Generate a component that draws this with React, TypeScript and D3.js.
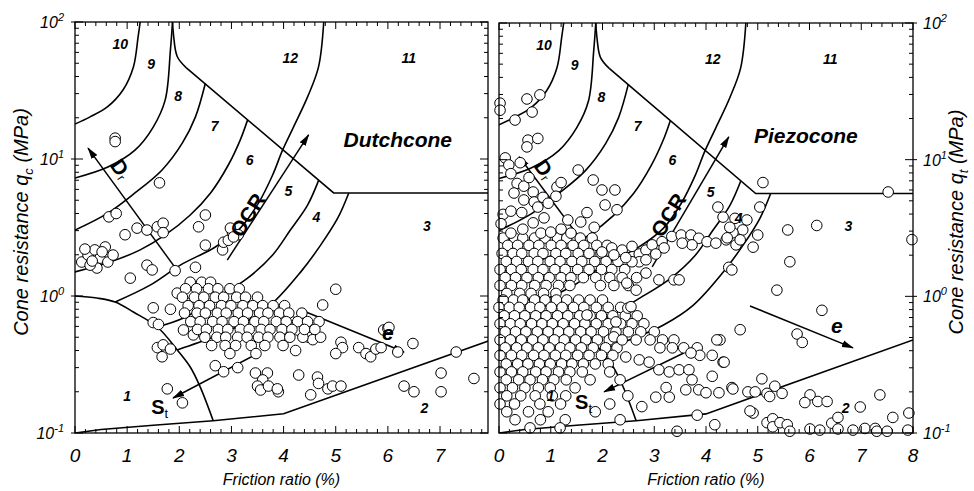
import React from 'react';
import * as d3 from 'd3';

type P = [number, number];

const FONT = '"Liberation Sans", Arial, Helvetica, sans-serif';

// ---------------- data ----------------
const xTickValues = [0, 1, 2, 3, 4, 5, 6, 7, 8];
const yDecades = [-1, 0, 1, 2];

// zone boundaries  [friction ratio %, cone resistance MPa]
const zone1Top: P[] = [[0, 1.0], [0.42, 0.966], [0.77, 0.904], [1.12, 0.764], [1.58, 0.594], [1.96, 0.404], [2.21, 0.303], [2.4, 0.217], [2.65, 0.123]];
const zone2Line: P[] = [[0, 0.1], [0.5, 0.106], [1.5, 0.114], [2.65, 0.123], [4.0, 0.138], [8.0, 0.48]];
const b10_9: P[] = [[1.25, 100], [1.21, 77.8], [1.12, 47], [0.92, 31.9], [0.62, 24.0], [0.29, 20.3], [0, 18.0]];
const b9_8: P[] = [[1.87, 100], [1.83, 62.5], [1.73, 27.0], [1.5, 17.1], [1.15, 11.6], [0.63, 8.74], [0, 7.27]];
const cuspBranch: P[] = [[1.87, 100], [1.89, 80], [1.96, 56], [2.13, 46.5]];
const diagonalLine: P[] = [[2.13, 46.5], [4.96, 5.65], [8.0, 5.65]];
const b8_7: P[] = [[0, 3.03], [0.63, 4.03], [1.15, 5.65], [1.67, 8.32], [2.06, 13.1], [2.31, 20.3], [2.5, 35.7]];
const b7_6: P[] = [[0, 1.5], [0.67, 1.77], [1.25, 2.17], [1.73, 2.79], [2.21, 3.9], [2.6, 5.65], [2.94, 9.04], [3.17, 13.8], [3.31, 19.3]];
const b6_5: P[] = [[0.77, 0.904], [1.44, 1.2], [2.02, 1.68], [2.69, 2.28], [3.17, 3.13], [3.52, 4.78], [3.79, 7.64], [3.98, 11.6], [4.19, 17.1], [4.46, 28.4], [4.67, 47.0], [4.77, 100]];
const b5_4: P[] = [[1.58, 0.594], [2.08, 0.69], [2.65, 0.935], [3.31, 1.35], [3.79, 1.99], [4.13, 3.03], [4.46, 4.61], [4.67, 6.95]];
const b4_3: P[] = [[1.96, 0.404], [2.65, 0.502], [3.17, 0.614], [3.75, 0.859], [4.33, 1.5], [4.71, 2.35], [5.04, 3.71], [5.25, 5.65]];
const curvedBoundaries = [zone1Top, b10_9, b9_8, cuspBranch, b8_7, b7_6, b6_5, b5_4, b4_3];
const straightBoundaries = [zone2Line, diagonalLine];

const zoneNames = ['10', '9', '8', '7', '6', '5', '4', '3', '12', '11', '1', '2'];
const zoneLabelX = [0.87, 1.46, 1.98, 2.68, 3.35, 4.09, 4.63, 6.75, 4.13, 6.4, 1.0, 6.7];
const zoneLabelQ = [69, 49, 28.6, 17.5, 9.9, 5.8, 3.76, 3.25, 54.6, 54.6, 0.185, 0.153];

// Dutch cone measurements
const dutchPoints: P[] = [
  [0.77, 14.2], [0.77, 13.4], [1.62, 6.7],
  [0.65, 3.78], [0.79, 4.0], [0.96, 2.8],
  [1.19, 3.13], [1.38, 3.03], [1.58, 3.2], [1.69, 3.4], [1.69, 2.9],
  [0.13, 1.77], [0.25, 1.99], [0.38, 2.17], [0.48, 1.89], [0.63, 1.77], [0.73, 1.99], [0.42, 1.6], [0.29, 1.68], [0.58, 2.28], [0.19, 2.2], [0.33, 1.8], [0.52, 2.1],
  [1.38, 1.68], [1.48, 1.55], [1.06, 1.35], [1.92, 1.53], [2.31, 1.62],
  [2.5, 3.9], [2.37, 3.2], [2.5, 2.35],
  [2.83, 2.17], [2.85, 2.47], [2.94, 2.55], [3.02, 2.9], [3.13, 2.8], [2.98, 3.13], [3.04, 2.7],
  [1.5, 0.82], [1.83, 0.8], [1.5, 0.64], [1.6, 0.62],
  [1.58, 0.42], [1.69, 0.44], [1.83, 0.41], [1.67, 0.36],
  [1.77, 0.21], [2.06, 0.166],
  [2.08, 0.565], [2.27, 0.52],
  [1.96, 1.05], [2.21, 1.05],
  [2.69, 0.31], [2.85, 0.28], [3.12, 0.3],
  [5.0, 1.12], [4.75, 0.86],
  [5.1, 0.46], [5.13, 0.42], [5.0, 0.38],
  [5.44, 0.42], [5.58, 0.38], [5.67, 0.36], [5.77, 0.41], [5.87, 0.42],
  [4.29, 0.265],
  [4.65, 0.256], [4.67, 0.23], [4.85, 0.21], [4.94, 0.22], [5.1, 0.22], [4.52, 0.19],
  [3.46, 0.274], [3.69, 0.274], [3.6, 0.244], [3.5, 0.22], [3.56, 0.206], [3.71, 0.22], [3.9, 0.2], [3.88, 0.21],
  [5.92, 0.565], [6.0, 0.58], [6.02, 0.59],
  [6.19, 0.39], [6.48, 0.45], [6.31, 0.22], [6.5, 0.2],
  [7.02, 0.274], [7.02, 0.2], [7.31, 0.39], [7.65, 0.25],
  [4.17, 0.645], [4.27, 0.565], [4.23, 0.4],
  [4.48, 0.5], [4.56, 0.48], [4.71, 0.5], [4.37, 0.5], [4.46, 0.59],
];
// dense cluster, listed row by row: [cone resistance, friction ratios]
const dutchBlobRows: [number, number[]][] = [
  [1.26, [2.21, 2.43, 2.6]],
  [1.13, [2.12, 2.33, 2.56, 2.74, 2.97, 3.15]],
  [0.98, [2.06, 2.29, 2.47, 2.69, 2.85, 3.1, 3.27, 3.5]],
  [0.85, [2.17, 2.38, 2.58, 2.81, 2.99, 3.22, 3.41, 3.6, 3.8, 4.02]],
  [0.75, [2.1, 2.34, 2.5, 2.73, 2.9, 3.13, 3.31, 3.54, 3.7, 3.92, 4.1, 4.35]],
  [0.65, [2.22, 2.4, 2.64, 2.82, 3.05, 3.23, 3.45, 3.62, 3.86, 4.05, 4.27, 4.46, 4.68]],
  [0.57, [2.35, 2.52, 2.75, 2.93, 3.17, 3.34, 3.57, 3.74, 3.97, 4.16, 4.4, 4.6]],
  [0.5, [2.49, 2.72, 2.89, 3.12, 3.3, 3.52, 3.7, 3.93, 4.12]],
  [0.435, [2.62, 2.88, 3.08, 3.38, 3.64, 3.99]],
  [0.38, [2.97, 3.47]],
];

// Piezocone measurements
const piezoPoints: P[] = [
  [0.02, 25.9], [0.02, 23.0], [0.54, 27.8], [0.79, 29.8], [0.64, 22.3], [0.31, 19.5], [0.56, 13.9], [0.75, 14.3], [0.54, 12.4],
  [1.53, 8.4], [1.82, 7.1], [1.99, 6.0], [2.24, 6.0], [2.28, 4.3], [1.7, 4.1], [2.05, 4.66], [1.58, 3.5], [1.84, 3.2],
  [0.12, 10.3], [0.19, 9.15], [0.41, 9.5], [0.23, 7.9], [0.35, 6.7], [0.29, 5.7], [0.48, 6.4], [0.48, 5.07], [0.66, 5.8], [0.68, 4.9], [0.85, 5.3], [0.75, 4.5], [0.95, 4.8], [1.12, 6.3], [1.1, 5.4], [1.2, 6.8], [0.08, 3.98], [0.23, 4.2], [0.04, 3.4], [0.23, 2.9], [0.46, 3.1], [0.66, 3.45], [0.87, 3.75], [0.81, 2.9], [1.0, 2.95], [1.2, 3.1], [1.33, 3.62], [1.39, 2.9], [0.44, 4.1], [0.58, 7.4],
  [1.99, 2.11], [2.18, 2.26], [2.38, 2.18], [2.57, 2.32], [2.71, 2.04], [2.84, 2.18], [2.96, 2.38], [3.15, 2.51], [3.34, 2.74], [3.52, 2.81], [3.71, 2.81], [3.86, 2.66], [4.02, 2.51], [4.19, 2.45], [4.39, 2.59], [4.58, 2.38], [2.71, 1.79], [2.57, 1.79], [2.84, 1.85], [3.73, 2.38], [3.54, 2.45], [3.19, 2.26], [3.03, 2.04], [2.22, 2.01], [2.45, 1.92],
  [4.33, 3.8], [4.56, 3.72], [4.79, 3.62], [5.04, 4.5], [5.0, 2.81], [4.91, 2.29], [4.71, 3.06], [4.52, 2.92], [4.41, 2.68], [4.66, 2.59], [4.23, 4.5], [4.46, 3.2],
  [5.1, 6.8], [5.58, 3.06], [6.14, 3.3], [7.52, 5.8], [7.98, 2.6],
  [3.09, 1.32], [3.38, 1.32], [3.48, 1.32], [2.47, 1.25], [2.65, 1.11], [2.84, 1.48], [4.44, 1.63], [4.5, 1.56],
  [5.62, 1.79], [5.37, 1.11], [6.24, 0.79], [4.66, 0.57], [5.76, 0.53], [5.86, 0.46], [4.33, 0.33], [4.27, 0.48],
  [2.49, 0.82], [1.7, 0.73], [2.26, 0.65], [2.55, 0.84],
  [2.22, 0.505], [2.38, 0.48], [2.65, 0.48], [2.45, 0.36], [2.71, 0.343], [2.9, 0.33], [3.09, 0.29], [3.29, 0.28], [3.48, 0.29], [3.67, 0.29], [3.73, 0.245], [3.86, 0.207], [4.0, 0.197], [3.23, 0.215], [3.03, 0.183], [3.29, 0.183], [3.61, 0.207], [3.71, 0.385], [4.21, 0.48], [4.35, 0.33], [4.12, 0.26], [4.5, 0.215], [4.25, 0.197], [2.76, 0.156],
  [5.08, 0.249], [4.52, 0.21], [4.81, 0.2], [4.95, 0.2], [5.33, 0.22], [5.18, 0.195], [5.23, 0.185], [5.47, 0.195], [4.91, 0.14], [4.85, 0.145], [5.18, 0.119], [5.29, 0.127], [5.29, 0.111], [5.43, 0.119], [5.57, 0.115], [5.62, 0.103], [6.01, 0.19], [5.91, 0.167], [6.16, 0.17], [6.34, 0.17], [6.01, 0.107], [6.2, 0.105], [6.43, 0.118], [6.55, 0.13], [6.55, 0.107], [6.84, 0.105], [7.07, 0.108], [7.27, 0.108], [7.3, 0.103], [7.5, 0.103], [6.98, 0.155], [7.36, 0.19], [7.61, 0.13], [7.92, 0.14], [7.9, 0.105], [3.44, 0.103], [3.83, 0.135], [4.17, 0.115],
];
const piezoRows: [number, number[]][] = [
  [2.67, [0.08, 0.3, 0.46, 0.69, 0.89, 1.13, 1.31, 1.57, 1.8]],
  [2.36, [0.17, 0.36, 0.58, 0.77, 1.01, 1.2, 1.43, 1.64, 1.89, 2.09]],
  [2.06, [0.06, 0.27, 0.44, 0.68, 0.85, 1.1, 1.29, 1.53, 1.74, 1.97, 2.18]],
  [1.8, [0.14, 0.34, 0.57, 0.75, 0.99, 1.18, 1.41, 1.6, 1.85, 2.07, 2.3]],
  [1.57, [0.02, 0.24, 0.43, 0.66, 0.85, 1.08, 1.28, 1.52, 1.74, 1.98, 2.18, 2.43]],
  [1.37, [0.12, 0.32, 0.54, 0.76, 0.97, 1.2, 1.39, 1.63, 1.87, 2.14, 2.38, 2.66]],
  [1.2, [0.02, 0.24, 0.44, 0.69, 0.91, 1.15, 1.37, 1.96, 2.22, 2.5]],
  [1.05, [0.15, 0.4, 0.62, 0.86, 1.1]],
  [0.94, [0.08, 0.28, 0.46, 0.69, 0.89, 1.11, 1.31, 1.54, 1.76, 2.0]],
  [0.83, [0, 0.2, 0.39, 0.61, 0.79, 1.01, 1.22, 1.44, 1.64, 1.88, 2.11, 2.35]],
  [0.72, [0.1, 0.3, 0.5, 0.71, 0.91, 1.13, 1.33, 1.56, 1.76, 1.98, 2.2, 2.44, 2.67]],
  [0.63, [0.02, 0.22, 0.41, 0.63, 0.83, 1.03, 1.24, 1.46, 1.66, 1.88, 2.11, 2.35, 2.57, 2.8]],
  [0.55, [0.12, 0.32, 0.52, 0.74, 0.95, 1.15, 1.35, 1.58, 1.78, 2.02, 2.26, 2.5, 2.74, 3.0]],
  [0.48, [0.02, 0.22, 0.43, 0.65, 0.85, 1.07, 1.26, 1.48, 1.68, 1.9, 2.13, 2.92, 3.16, 3.38]],
  [0.42, [0.12, 0.34, 0.54, 0.76, 0.97, 1.19, 1.37, 1.59, 1.82, 2.06, 2.28, 3.11, 3.35, 3.57, 3.83]],
  [0.37, [0.02, 0.24, 0.44, 0.67, 0.87, 1.09, 1.29, 1.52, 1.74, 1.98, 2.2, 3.88, 4.12]],
  [0.32, [0.14, 0.36, 0.56, 0.78, 0.99, 1.21, 1.41, 1.63, 1.86, 2.11]],
  [0.28, [0.02, 0.24, 0.46, 0.71, 0.91, 1.15, 1.37, 1.61, 2.14]],
  [0.245, [0.14, 0.38, 0.6, 0.84, 1.06, 1.3, 1.76, 2.34]],
  [0.214, [0.02, 0.26, 0.5, 0.76, 0.99, 1.47]],
  [0.187, [0.15, 0.42, 0.7, 1.03, 1.29, 2.49]],
  [0.163, [0.02, 0.3, 0.79, 1.19, 2.14]],
  [0.143, [0.15, 0.57, 0.95, 1.86]],
  [0.125, [0.31, 0.8, 1.28, 2.34]],
  [0.109, [0.6, 1.18]],
];

// annotation arrows [tail, head]
const dutchDr: P[] = [[1.98, 1.5], [0.25, 12.0]];
const dutchOCR: P[] = [[2.92, 1.83], [4.48, 15.0]];
const dutchSt: P[] = [[3.56, 0.39], [1.88, 0.18]];
const dutchE: P[] = [[4.37, 0.78], [6.31, 0.39]];
const piezoDr: P[] = [[2.09, 1.44], [0.39, 10.5]];
const piezoOCR: P[] = [[2.96, 1.64], [4.44, 14.7]];
const piezoSt: P[] = [[3.57, 0.385], [2.03, 0.2]];
const piezoE: P[] = [[4.85, 0.85], [6.84, 0.42]];

const rowsToPoints = (rows: [number, number[]][]): P[] => rows.flatMap(([q, xs]) => xs.map((v) => [v, q] as P));

const panels = [
  {
    id: 'dutch', left: 75, right: 488, top: 22, bottom: 433, xMax: 7.92, labelSide: 'left', title: 'Dutchcone',
    titleAt: [6.19, 13.8] as P, sub: 'c', yTitleX: 28,
    points: [...dutchPoints, ...rowsToPoints(dutchBlobRows)],
    arrows: [dutchDr, dutchOCR, dutchSt, dutchE],
    drAt: [0.88, 8.5] as P, ocrAt: [3.31, 3.9] as P, stAt: [1.46, 0.138] as P, eAt: [6.0, 0.546] as P,
  },
  {
    id: 'piezo', left: 499, right: 913, top: 23, bottom: 433, xMax: 8, labelSide: 'right', title: 'Piezocone',
    titleAt: [5.93, 14.9] as P, sub: 't', yTitleX: 963,
    points: [...rowsToPoints(piezoRows), ...piezoPoints],
    arrows: [piezoDr, piezoOCR, piezoSt, piezoE],
    drAt: [0.88, 8.5] as P, ocrAt: [3.27, 3.94] as P, stAt: [1.47, 0.15] as P, eAt: [6.53, 0.607] as P,
  },
];

function Panel({ p }: { p: any }) {
  const x = d3.scaleLinear().domain([0, p.xMax]).range([p.left, p.right]);
  const y = d3.scaleLog().domain([0.1, 100]).range([p.bottom, p.top]);
  const curve = d3.line<P>().x((d) => x(d[0])).y((d) => y(d[1])).curve(d3.curveCatmullRom.alpha(0.5));
  const straight = d3.line<P>().x((d) => x(d[0])).y((d) => y(d[1]));

  const xMinor = d3.range(0, Math.floor(p.xMax * 5 + 1e-6) + 1).map((i) => i / 5);
  const yMinor: number[] = [];
  [-1, 0, 1].forEach((e) => { for (let m = 2; m <= 9; m++) yMinor.push(m * Math.pow(10, e)); });
  const xLabels = xTickValues.filter((v) => v <= p.xMax + 1e-6);
  const clipId = `clip-${p.id}`;
  const isMajorX = (v: number) => Math.abs(v - Math.round(v)) < 1e-6;
  const sideLeft = p.labelSide === 'left';

  return (
    <g>
      <defs>
        <clipPath id={clipId}>
          <rect x={p.left} y={p.top} width={p.right - p.left} height={p.bottom - p.top} />
        </clipPath>
      </defs>
      <g clipPath={`url(#${clipId})`} fill="none" stroke="#000" strokeWidth={1.6}>
        {curvedBoundaries.map((c, i) => <path key={'c' + i} d={curve(c) || ''} />)}
        {straightBoundaries.map((c, i) => <path key={'s' + i} d={straight(c) || ''} />)}
      </g>
      <g stroke="#000" strokeWidth={1.5} fill="none">
        {p.arrows.map((a: P[], i: number) => (
          <line key={i} x1={x(a[0][0])} y1={y(a[0][1])} x2={x(a[1][0])} y2={y(a[1][1])} markerEnd="url(#ah)" />
        ))}
      </g>
      <g fill="#fff" stroke="#000" strokeWidth={1}>
        {p.points.map((d: P, i: number) => <circle key={i} cx={x(d[0])} cy={y(d[1])} r={5.3} />)}
      </g>
      <rect x={p.left} y={p.top} width={p.right - p.left} height={p.bottom - p.top} fill="none" stroke="#000" strokeWidth={1.3} />
      <g stroke="#000" strokeWidth={1}>
        {xMinor.map((v, i) => {
          const L = isMajorX(v) ? 7 : 4;
          return (
            <g key={'xt' + i}>
              <line x1={x(v)} x2={x(v)} y1={p.bottom} y2={p.bottom - L} />
              <line x1={x(v)} x2={x(v)} y1={p.top} y2={p.top + L} />
            </g>
          );
        })}
        {yMinor.map((v, i) => (
          <g key={'ym' + i}>
            <line x1={p.left} x2={p.left + 4} y1={y(v)} y2={y(v)} />
            <line x1={p.right} x2={p.right - 4} y1={y(v)} y2={y(v)} />
          </g>
        ))}
        {yDecades.map((e, i) => {
          const v = Math.pow(10, e);
          return (
            <g key={'yM' + i}>
              <line x1={p.left - (sideLeft ? 4 : 0)} x2={p.left + 8} y1={y(v)} y2={y(v)} />
              <line x1={p.right + (sideLeft ? 0 : 4)} x2={p.right - 8} y1={y(v)} y2={y(v)} />
            </g>
          );
        })}
      </g>
      <g fontFamily={FONT} fontStyle="italic" fill="#000">
        {xLabels.map((v) => (
          <text key={'xl' + v} x={x(v)} y={462} textAnchor="middle" fontSize={19}>{v}</text>
        ))}
        {yDecades.map((e) => (
          <text key={'yl' + e} x={sideLeft ? p.left - 11 : p.right + 10} y={y(Math.pow(10, e)) + 6}
            textAnchor={sideLeft ? 'end' : 'start'} fontSize={16}>
            10<tspan dy={-7} fontSize={11}>{e}</tspan>
          </text>
        ))}
        <text x={(p.left + p.right) / 2} y={485} textAnchor="middle" fontSize={16}>Friction ratio (%)</text>
        <text transform={`translate(${p.yTitleX},222) rotate(-90)`} textAnchor="middle" fontSize={20}>
          Cone resistance q<tspan dy={5} fontSize={13}>{p.sub}</tspan><tspan dy={-5}> (MPa)</tspan>
        </text>
      </g>
      <g fontFamily={FONT} fill="#000">
        {zoneNames.map((n, i) => (
          <text key={'z' + n} x={x(zoneLabelX[i])} y={y(zoneLabelQ[i])} textAnchor="middle" dominantBaseline="central"
            fontSize={14} fontWeight="bold" fontStyle="italic">{n}</text>
        ))}
        <text x={x(p.titleAt[0])} y={y(p.titleAt[1])} textAnchor="middle" dominantBaseline="central"
          fontSize={21} fontWeight="bold" fontStyle="italic">{p.title}</text>
        <text transform={`translate(${x(p.ocrAt[0])},${y(p.ocrAt[1])}) rotate(-58)`} textAnchor="middle" dominantBaseline="central"
          fontSize={21} fontWeight="bold">OCR</text>
        <text transform={`translate(${x(p.drAt[0])},${y(p.drAt[1])}) rotate(55)`} textAnchor="middle" dominantBaseline="central"
          fontSize={21} fontWeight="bold">D<tspan dy={5} fontSize={12} fontWeight="normal">r</tspan></text>
        <text x={x(p.stAt[0])} y={y(p.stAt[1])} fontSize={20} fontWeight="bold">S<tspan dy={4} fontSize={13} fontWeight="normal">t</tspan></text>
        <text x={x(p.eAt[0])} y={y(p.eAt[1])} textAnchor="middle" dominantBaseline="central" fontSize={21}
          fontWeight="bold" fontStyle="italic">e</text>
      </g>
    </g>
  );
}

export default function App() {
  return (
    <svg width={974} height={491} style={{ position: 'absolute', left: 0, top: 0, background: '#fff' }}>
      <defs>
        <marker id="ah" viewBox="0 0 12 8" refX={11} refY={4} markerWidth={12} markerHeight={8}
          markerUnits="userSpaceOnUse" orient="auto">
          <path d="M0,0.5 L12,4 L0,7.5 Z" fill="#000" />
        </marker>
      </defs>
      <rect x={0} y={0} width={974} height={491} fill="#fff" />
      {panels.map((p) => <Panel key={p.id} p={p} />)}
    </svg>
  );
}
